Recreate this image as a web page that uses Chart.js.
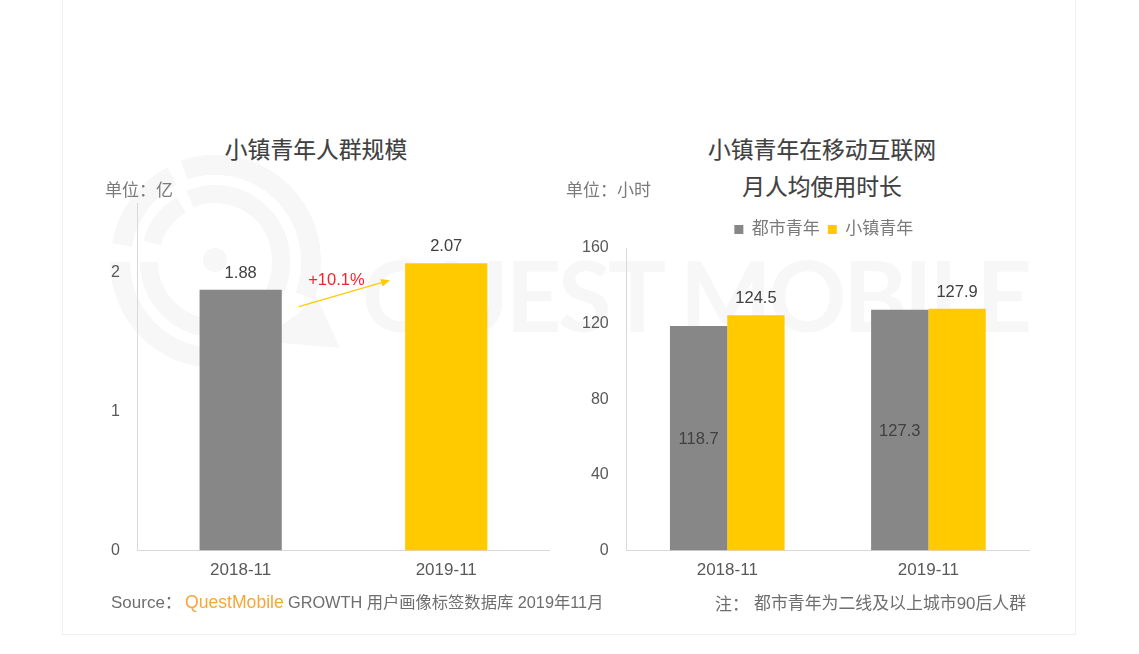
<!DOCTYPE html>
<html>
<head>
<meta charset="utf-8">
<script src="https://cdn.jsdelivr.net/npm/chart.js@4/dist/chart.umd.min.js"></script>
<style>
html,body{margin:0;padding:0;background:#fff}
body{position:relative;width:1139px;height:654px;overflow:hidden;font-family:"Liberation Sans","Noto Sans CJK SC",sans-serif}
.card{position:absolute;left:62px;top:-2px;width:1012px;height:635px;border:1px solid #efefef;box-sizing:content-box}
.t{position:absolute;white-space:nowrap;line-height:1}
.title{font-size:22.8px;color:#404040;font-weight:400;text-align:center;-webkit-text-stroke:.15px #404040}
.unit{font-size:17px;color:#7a7a7a}
.foot{font-size:16.3px;color:#6e6e6e}
canvas{position:absolute}
#wm{position:absolute;left:0;top:0}
</style>
</head>
<body>
<div class="card"></div>
<svg id="wm" width="1139" height="654" fill="none" stroke="#f7f7f7">
  <path d="M122 245 A96 96 0 0 1 172 176" stroke-width="20"/>
  <path d="M184 170 A96 96 0 0 1 311 262 A96 96 0 0 1 305 296" stroke-width="20"/>
  <path d="M120 262 A96 96 0 0 0 215 358" stroke-width="20"/>
  <path d="M152 243 A66 66 0 0 1 181 205" stroke-width="18"/>
  <path d="M190 199 A66 66 0 0 1 281 262 A66 66 0 0 1 270 300" stroke-width="18"/>
  <path d="M149 262 A66 66 0 0 0 215 328" stroke-width="18"/>
  <polygon points="215,319 282,325 300,312 316,295 340,348 215,337" fill="#f7f7f7" stroke="none"/>
  <circle cx="215" cy="260" r="12" fill="#f7f7f7" stroke="none"/>
  <text x="362" y="332" font-family="Lato" font-weight="700" font-size="97" letter-spacing="3" textLength="673" fill="#f7f7f7" stroke="none">QUEST MOBILE</text>
</svg>

<canvas id="c1" style="left:93px;top:176px;width:480px;height:423px" width="480" height="423"></canvas>
<canvas id="c2" style="left:564px;top:213px;width:516px;height:386px" width="516" height="386"></canvas>

<div class="t title" style="left:216px;top:139px;width:200px">小镇青年人群规模</div>
<div class="t title" style="left:672px;top:139px;width:300px">小镇青年在移动互联网</div>
<div class="t title" style="left:672px;top:176px;width:300px">月人均使用时长</div>
<div class="t unit" style="left:105px;top:182px">单位：亿</div>
<div class="t unit" style="left:566px;top:182px">单位：小时</div>
<div class="t foot" style="left:111px;top:594px;font-size:17px">Source：</div>
<div class="t foot" style="left:185px;top:594px;font-size:17.6px;color:#f7a63a">QuestMobile</div>
<div class="t foot" style="left:288px;top:594px">GROWTH 用户画像标签数据库 2019年11月</div>
<div class="t foot" style="left:715px;top:596px;font-size:17px">注：</div>
<div class="t foot" style="left:754px;top:596px;font-size:16.9px">都市青年为二线及以上城市90后人群</div>

<script>
const categories = ['2018-11','2019-11']
const scaleValues = [1.88,2.07]
const urbanHours = [118.7,127.3]
const townHours = [124.5,127.9]
const growthLabel = '+10.1%'
const seriesNames = ['都市青年','小镇青年']

const GREY = '#878787', YELLOW = '#ffcb00', AXIS = '#d9d9d9', TXT = '#595959'
const FONT = '"Liberation Sans","Noto Sans CJK SC",sans-serif'

// value labels, drawn from the bar elements themselves
const valueLabels = {
  id:'valueLabels',
  afterDatasetsDraw(chart){
    const c = chart.ctx
    c.save()
    c.font = '16.5px '+FONT
    c.fillStyle = '#404040'
    c.textAlign = 'center'
    c.textBaseline = 'alphabetic'
    chart.data.datasets.forEach((ds,i)=>{
      chart.getDatasetMeta(i).data.forEach((bar,j)=>{
        const y = ds.labelInside ? (bar.y+bar.base)/2+6 : bar.y-12
        c.fillText(ds.data[j].toFixed(ds.decimals),bar.x,y)
      })
    })
    c.restore()
  }
}

// growth arrow between the two bars of the left chart
const growthArrow = {
  id:'growthArrow',
  afterDatasetsDraw(chart){
    const bars = chart.getDatasetMeta(0).data
    const c = chart.ctx
    const x1 = bars[0].x+bars[0].width/2+17, y1 = bars[0].y+17
    const x2 = bars[1].x-bars[1].width/2-15, y2 = bars[1].y+17
    const a = Math.atan2(y2-y1,x2-x1)
    c.save()
    c.strokeStyle = YELLOW; c.fillStyle = YELLOW; c.lineWidth = 1.3
    c.beginPath(); c.moveTo(x1,y1); c.lineTo(x2-6,y2+1.6); c.stroke()
    c.beginPath(); c.moveTo(x2,y2)
    c.lineTo(x2-9*Math.cos(a)+4*Math.sin(a),y2-9*Math.sin(a)-4*Math.cos(a))
    c.lineTo(x2-9*Math.cos(a)-4*Math.sin(a),y2-9*Math.sin(a)+4*Math.cos(a))
    c.closePath(); c.fill()
    c.font = '16.5px '+FONT; c.fillStyle = '#f5222d'; c.textAlign = 'center'; c.textBaseline = 'alphabetic'
    c.fillText(growthLabel,(x1+x2)/2-8,y2+5)
    c.restore()
  }
}

// the legend sits over the plot, not over the padded box
const centerLegend = {
  id:'centerLegend',
  afterLayout(chart){
    const l = chart.legend, a = chart.chartArea
    const d = (a.left+a.right)/2-(l.left+l.right)/2-4
    l.left += d; l.right += d
  }
}

function axes(max,step){
  return {
    x:{ grid:{display:false,drawTicks:false}, border:{color:AXIS}, ticks:{color:TXT,font:{size:17,family:FONT},padding:10,maxRotation:0} },
    y:{ min:0, max:max, grid:{display:false,drawTicks:false}, border:{color:AXIS}, ticks:{stepSize:step,includeBounds:false,color:TXT,font:{size:16,family:FONT},padding:18} }
  }
}

new Chart(document.getElementById('c1'),{
  type:'bar',
  data:{ labels:categories, datasets:[
    { data:scaleValues, backgroundColor:[GREY,YELLOW], categoryPercentage:1, barPercentage:0.4, decimals:2 }
  ]},
  options:{ responsive:false, animation:false, layout:{padding:{top:2,right:24,bottom:8,left:0}}, scales:axes(2.5,1), plugins:{legend:{display:false},tooltip:{enabled:false}} },
  plugins:[valueLabels,growthArrow]
})

new Chart(document.getElementById('c2'),{
  type:'bar',
  data:{ labels:categories, datasets:[
    { label:seriesNames[0], data:urbanHours, backgroundColor:GREY, categoryPercentage:0.57, barPercentage:1, decimals:1, labelInside:true },
    { label:seriesNames[1], data:townHours, backgroundColor:YELLOW, categoryPercentage:0.57, barPercentage:1, decimals:1 }
  ]},
  options:{ responsive:false, animation:false, layout:{padding:{top:0,right:51,bottom:8,left:0}}, scales:axes(160,40),
    plugins:{ tooltip:{enabled:false},
      legend:{ position:'top', labels:{ usePointStyle:true, pointStyle:'rect', boxWidth:9, boxHeight:9, padding:8, color:'#7a7a7a', font:{size:17,family:FONT} } } } },
  plugins:[valueLabels,centerLegend]
})
</script>
</body>
</html>
